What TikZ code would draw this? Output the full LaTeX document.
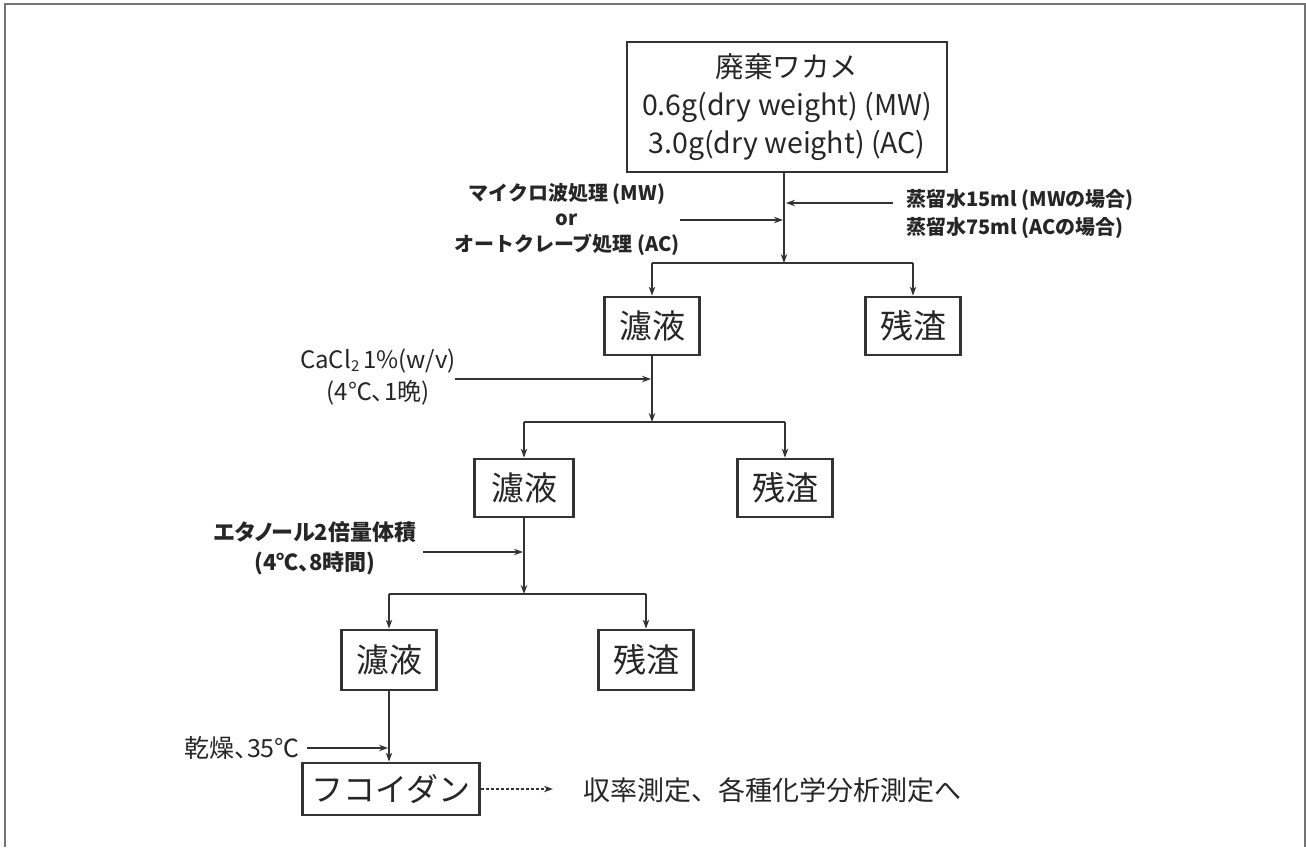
\documentclass[tikz,border=0pt]{standalone}
\usepackage{fontspec}
\setmainfont{Noto Sans CJK JP}
\newfontfamily\jpp[RawFeature=+palt]{Noto Sans CJK JP}
\usetikzlibrary{arrows.meta}
\definecolor{txt}{HTML}{262626}
\definecolor{lin}{HTML}{333333}
\newcommand{\subtwo}{\raisebox{-0.25ex}{\fontsize{15}{15}\selectfont 2}}
\begin{document}
\begin{tikzpicture}[x=1pt,y=-1pt,
  box/.style={draw=lin, line width=2.8pt, inner sep=0pt, align=center, text=txt},
  fbox/.style={box, minimum width=95pt, minimum height=58pt, font=\fontsize{33}{36}\selectfont},
  arr/.style={draw=lin, line width=1.1pt, -{Stealth[length=9pt,width=6.5pt]}},
  ln/.style={draw=lin, line width=1.1pt},
  lab/.style={text=txt, inner sep=0pt, align=center},
  frame/.style={draw=black!55, line width=1.5pt}
]
\useasboundingbox (0,0) rectangle (1306,847);
\draw[frame] (5,847) -- (5,4) -- (1305,4) -- (1305,847);

% nodes
\node[box, minimum width=320pt, minimum height=130pt, font=\fontsize{28.5}{38}\selectfont] (top) at (787,107)
  {廃棄ワカメ\\0.6g(dry weight) (MW)\\3.0g(dry weight) (AC)};
\node[fbox] (f1) at (652,326) {濾液};
\node[fbox] (r1) at (913,326) {残渣};
\node[fbox, minimum width=99pt] (f2) at (524,488) {濾液};
\node[fbox] (r2) at (785,488) {残渣};
\node[fbox, minimum height=60pt] (f3) at (389,660) {濾液};
\node[fbox, minimum height=60pt] (r3) at (646,660) {残渣};
\node[box, minimum width=177pt, minimum height=52pt, font=\fontsize{32}{36}\selectfont] (fuco) at (391,789) {フコイダン};

% labels
\node[lab, font=\bfseries\fontsize{20}{25.5}\selectfont] (L1) at (567,219)
  {マイクロ波処理 (MW)\\or\\オートクレーブ処理 (AC)};
\node[lab, anchor=west, align=left, font=\bfseries\fontsize{20}{28}\selectfont] (R1) at (906,214)
  {蒸留水15ml (MWの場合)\\蒸留水75ml (ACの場合)};
\node[lab, font=\jpp\fontsize{24}{32}\selectfont] (L2) at (378,377)
  {CaCl\subtwo\,1\%(w/v)\\(4℃、1晩)};
\node[lab, font=\jpp\bfseries\fontsize{22}{30}\selectfont] (L3) at (315,548)
  {エタノール2倍量体積\\(4℃、8時間)};
\node[lab, anchor=east, font=\jpp\fontsize{25}{30}\selectfont] (L4) at (300,748) {乾燥、35℃};
\node[lab, anchor=west, font=\fontsize{27}{30}\selectfont] (out) at (583,790) {収率測定、各種化学分析測定へ};

% junction coordinates
\coordinate (j1) at (784,263);
\coordinate (j2) at (652,422);
\coordinate (j3) at (524,594);
\coordinate (a1) at (783,220);
\coordinate (a2) at (786,203);
\coordinate (a3) at (651,379);
\coordinate (a4) at (523,552);
\coordinate (a5) at (388,748);
\coordinate (s2) at (893,203);
\coordinate (s3) at (455,379);
\coordinate (s4) at (423,552);
\coordinate (s5) at (307,748);

% stage 1
\draw[arr] (top.south -| j1) -- (j1);
\draw[ln] (f1.north |- j1) -- (r1.north |- j1);
\draw[arr] (f1.north |- j1) -- (f1.north);
\draw[arr] (r1.north |- j1) -- (r1.north);
\draw[arr] (L1.east |- a1) -- (a1);
\draw[arr] (s2) -- (a2);

% stage 2
\draw[arr] (f1.south) -- (j2);
\draw[arr] (s3) -- (a3);
\draw[ln] (f2.north |- j2) -- (r2.north |- j2);
\draw[arr] (f2.north |- j2) -- (f2.north);
\draw[arr] (r2.north |- j2) -- (r2.north);

% stage 3
\draw[arr] (f2.south) -- (j3);
\draw[arr] (s4) -- (a4);
\draw[ln] (f3.north |- j3) -- (r3.north |- j3);
\draw[arr] (f3.north |- j3) -- (f3.north);
\draw[arr] (r3.north |- j3) -- (r3.north);

% stage 4
\draw[arr] (f3.south) -- (f3.south |- fuco.north);
\draw[arr] (s5) -- (a5);
\draw[arr, dash pattern=on 3pt off 2pt] (fuco.east) -- ++(72,0);
\end{tikzpicture}
\end{document}
